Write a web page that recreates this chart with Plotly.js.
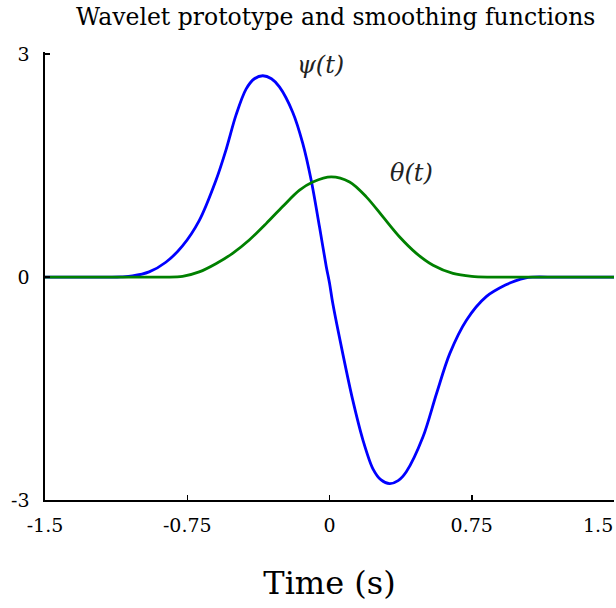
<!DOCTYPE html>
<html>
<head>
<meta charset="utf-8">
<script src="https://cdn.plot.ly/plotly-3.0.1.min.js"></script>
<style>html,body{margin:0;padding:0;background:#fff;}#chart{width:616px;height:608px;}</style>
</head>
<body>
<div id="chart"></div>
<script>
// psi(t): wavelet prototype
const psiT = [-1.5, -1.25, -1.15, -1.10, -1.039, -0.951, -0.863, -0.775, -0.687, -0.599, -0.546, -0.493, -0.440, -0.396, -0.352, -0.306, -0.264, -0.194, -0.141, -0.097, -0.053, -0.017, 0.0, 0.017, 0.070, 0.123, 0.176, 0.229, 0.272, 0.317, 0.362, 0.405, 0.493, 0.564, 0.634, 0.722, 0.828, 0.933, 0.98, 1.03, 1.07, 1.2, 1.5];
const psiV = [0, 0, 0, 0.003, 0.015, 0.07, 0.20, 0.42, 0.76, 1.30, 1.71, 2.18, 2.53, 2.67, 2.71, 2.67, 2.56, 2.22, 1.80, 1.31, 0.68, 0.14, -0.08, -0.35, -1.03, -1.66, -2.19, -2.58, -2.73, -2.78, -2.74, -2.62, -2.15, -1.57, -1.03, -0.58, -0.26, -0.10, -0.05, -0.012, 0, 0, 0];
// theta(t): smoothing function
const thetaT = [-1.5, -1.0, -0.863, -0.775, -0.687, -0.599, -0.511, -0.423, -0.334, -0.247, -0.158, -0.088, 0.009, 0.106, 0.194, 0.282, 0.370, 0.458, 0.546, 0.651, 0.75, 0.84, 0.95, 1.5];
const thetaV = [0, 0, 0, 0.01, 0.07, 0.18, 0.32, 0.50, 0.72, 0.95, 1.17, 1.28, 1.35, 1.28, 1.08, 0.81, 0.54, 0.32, 0.16, 0.05, 0.01, 0, 0, 0];
const xTicks = [-1.5, -0.75, 0, 0.75, 1.5];
const xTickText = ["-1.5", "-0.75", "0", "0.75", ""];
const xEdgeLabel = "1.5";
const yTicks = [-3, 0, 3];
const yTickText = ["-3", "0", "3"];

const serif = "DejaVu Serif, Liberation Serif, serif";
const traces = [
  {x: psiT, y: psiV, mode: "lines", line: {color: "#0000ff", width: 2.8, shape: "spline", smoothing: 0.9}, hoverinfo: "skip"},
  {x: thetaT, y: thetaV, mode: "lines", line: {color: "#008000", width: 2.8, shape: "spline", smoothing: 0.9}, hoverinfo: "skip"}
];
const layout = {
  width: 616, height: 608,
  margin: {l: 45, r: 2, t: 52, b: 108},
  paper_bgcolor: "#fff", plot_bgcolor: "#fff",
  showlegend: false,
  font: {family: serif, color: "#000"},
  title: {text: "Wavelet prototype and smoothing functions", x: 0.545, xanchor: "center", y: 0.973, yanchor: "middle", font: {family: serif, size: 23.5, color: "#000"}},
  xaxis: {
    range: [-1.5, 1.5], tickvals: xTicks, ticktext: xTickText,
    showgrid: false, zeroline: false, showline: true, linecolor: "#000", linewidth: 1.6,
    ticks: "inside", ticklen: 5, tickwidth: 1.5, tickcolor: "#000",
    tickfont: {family: serif, size: 19, color: "#000"}, ticklabelstandoff: 8,
    title: {text: "Time (s)", font: {family: serif, size: 32, color: "#000"}, standoff: 36}
  },
  yaxis: {
    range: [-3, 3.03], tickvals: yTicks, ticktext: yTickText,
    showgrid: false, zeroline: false, showline: true, linecolor: "#000", linewidth: 1.6,
    ticks: "inside", ticklen: 5, tickwidth: 1.5, tickcolor: "#000",
    tickfont: {family: serif, size: 19, color: "#000"}, ticklabelstandoff: 10
  },
  annotations: [
    {x: -0.05, y: 2.85, xref: "x", yref: "y", text: "<i>ψ(t)</i>", showarrow: false, font: {family: serif, size: 24, color: "#222"}},
    {x: 0.43, y: 1.4, xref: "x", yref: "y", text: "<i>θ(t)</i>", showarrow: false, font: {family: serif, size: 24, color: "#222"}},
    {x: xTicks[4], y: 0, xref: "x", yref: "paper", xanchor: "right", yanchor: "middle", yshift: -25, xshift: 1, text: xEdgeLabel, showarrow: false, font: {family: serif, size: 19, color: "#000"}}
  ]
};
Plotly.newPlot("chart", traces, layout, {displayModeBar: false, staticPlot: true});
</script>
</body>
</html>
